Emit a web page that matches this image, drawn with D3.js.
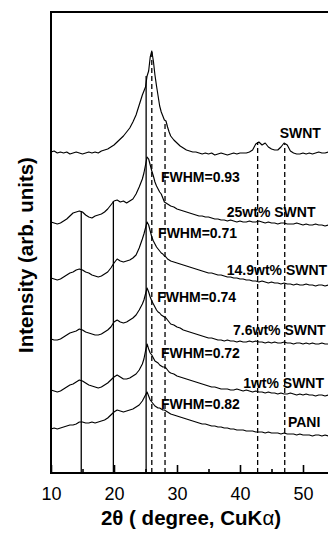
<!DOCTYPE html>
<html>
<head>
<meta charset="utf-8">
<script src="https://cdn.jsdelivr.net/npm/d3@7"></script>
<style>
  body { margin: 0; background: #fff; }
  svg { display: block; }
</style>
</head>
<body>
<svg id="xrd"></svg>
<script>
// 2-theta sample positions shared by all patterns
const angles = [
  10, 10.5, 11, 11.5, 12, 12.5, 13, 13.5, 14, 14.5,
  15, 15.5, 16, 16.5, 17, 17.5, 18, 18.5, 19, 19.5,
  20, 20.5, 21, 21.5, 22, 22.5, 23, 23.5, 24, 24.5,
  24.75, 25, 25.25, 25.5, 25.75, 26, 26.25, 26.5, 26.75, 27,
  27.25, 27.5, 27.75, 28, 28.25, 28.5, 28.75, 29, 29.5, 30,
  30.5, 31, 31.5, 32, 32.5, 33, 33.5, 34, 34.5, 35,
  35.5, 36, 36.5, 37, 37.5, 38, 38.5, 39, 39.5, 40,
  40.5, 41, 41.5, 42, 42.5, 43, 43.5, 44, 44.5, 45,
  45.5, 46, 46.5, 47, 47.5, 48, 48.5, 49, 49.5, 50,
  50.5, 51, 51.5, 52, 52.5, 53, 53.5, 54, 54.5, 55
];

// stacked intensities (arb. units, offsets included)
const swnt = [
  321, 322, 320, 321, 320, 321, 319, 320, 321, 320,
  319, 320, 321, 320, 321, 320, 322, 323, 324, 326,
  328, 331, 334, 337, 341, 345, 351, 358, 368, 378,
  382, 386, 397, 402, 416, 422, 412, 398, 387, 377,
  367, 361, 357, 353, 352, 346, 341, 337, 333, 330,
  327, 325, 323, 322, 321, 321, 320, 319, 320, 319,
  320, 318, 319, 320, 319, 318, 319, 320, 319, 320,
  320, 320, 321, 323, 329, 331, 328, 330, 326, 324,
  323, 323, 326, 330, 328, 322, 320, 319, 319, 320,
  319, 320, 319, 320, 321, 320, 320, 321, 320, 320
];
const swnt25 = [
  251, 250, 249, 250, 252, 254, 257, 260, 261, 262,
  261, 258, 256, 255, 257, 258, 259, 261, 264, 268,
  272, 273, 271, 272, 270, 272, 274, 279, 286, 294,
  300, 308, 316, 314, 308, 302, 297, 291, 287, 284,
  281, 279, 275, 271, 270, 269, 268, 267, 266, 264,
  263, 262, 261, 260, 259, 258, 257, 257, 256, 256,
  255, 254, 254, 253, 253, 252, 253, 252, 251, 252,
  251, 251, 252, 251, 251, 252, 251, 250, 251, 250,
  250, 249, 250, 250, 249, 249, 249, 250, 249, 248,
  249, 248, 248, 249, 248, 248, 247, 248, 248, 248
];
const swnt149 = [
  195, 194, 193, 194, 196, 198, 200, 201, 203, 204,
  203, 201, 200, 198, 197, 196, 197, 199, 201, 205,
  210, 214, 212, 211, 212, 213, 215, 218, 225, 234,
  239, 245, 251, 248, 242, 236, 232, 229, 226, 224,
  222, 220, 219, 217, 216, 214, 213, 212, 211, 210,
  209, 208, 207, 206, 205, 204, 203, 202, 201, 200,
  200, 199, 198, 198, 197, 196, 196, 195, 195, 194,
  194, 193, 193, 192, 192, 191, 192, 191, 190, 191,
  190, 190, 189, 190, 189, 189, 188, 189, 188, 188,
  189, 188, 188, 187, 188, 188, 187, 188, 187, 187
];
const swnt76 = [
  134, 133, 133, 134, 136, 138, 140, 141, 142, 144,
  143, 141, 140, 139, 138, 138, 139, 141, 143, 146,
  151, 153, 151, 150, 151, 153, 155, 158, 163, 169,
  173, 179, 185, 181, 176, 172, 169, 166, 163, 161,
  160, 158, 157, 156, 155, 153, 151, 149, 148, 146,
  145, 143, 142, 141, 140, 139, 138, 137, 136, 135,
  135, 134, 133, 133, 132, 133, 132, 132, 131, 132,
  131, 131, 132, 131, 132, 131, 131, 130, 131, 130,
  131, 130, 130, 131, 130, 130, 129, 130, 130, 129,
  130, 129, 130, 129, 129, 130, 129, 129, 130, 129
];
const swnt1 = [
  83, 82, 81, 82, 84, 86, 88, 89, 91, 93,
  92, 90, 88, 87, 86, 85, 86, 88, 90, 93,
  96, 98, 96, 94, 94, 95, 97, 99, 103, 109,
  114, 122, 129, 124, 120, 118, 115, 112, 111, 110,
  108, 107, 106, 106, 105, 103, 101, 100, 99, 97,
  96, 95, 94, 93, 92, 91, 90, 89, 88, 87,
  86, 86, 85, 84, 84, 84, 83, 83, 84, 83,
  82, 83, 82, 81, 82, 81, 81, 80, 81, 80,
  80, 79, 80, 79, 79, 80, 79, 78, 79, 78,
  79, 78, 78, 77, 78, 78, 77, 78, 77, 77
];
const pani = [
  44, 45, 44, 45, 46, 47, 48, 48, 49, 51,
  51, 50, 50, 51, 50, 51, 52, 53, 55, 58,
  61, 63, 62, 61, 62, 63, 64, 66, 68, 72,
  75, 78, 81, 77, 73, 71, 69, 67, 66, 65,
  65, 64, 63, 63, 62, 61, 60, 59, 58, 57,
  56, 55, 54, 53, 52, 51, 50, 49, 49, 48,
  47, 47, 46, 46, 45, 45, 44, 44, 43, 43,
  43, 42, 42, 42, 41, 41, 41, 40, 41, 40,
  40, 40, 39, 40, 39, 39, 39, 38, 39, 38,
  38, 38, 37, 38, 38, 37, 38, 37, 38, 37
];

// reflection markers: position and the level they reach
const solidAngles = [14.8, 19.9, 25.1];
const solidTops = [262, 272, 397];
const dashedAngles = [26.0, 28.1, 42.8, 47.1];
const dashedTops = [422, 352, 331, 329];

const majorTicks = [10, 20, 30, 40, 50];
const minorTicks = [15, 25, 35, 45];

// text labels with the (2theta, intensity) of their baseline start
const labels = [
  {text: 'SWNT', at: [46.3, 335]},
  {text: 'FWHM=0.93', at: [27.45, 291]},
  {text: '25wt% SWNT', at: [37.9, 256]},
  {text: 'FWHM=0.71', at: [27.0, 235]},
  {text: '14.9wt% SWNT', at: [37.9, 198]},
  {text: 'FWHM=0.74', at: [26.85, 171]},
  {text: '7.6wt% SWNT', at: [38.9, 138]},
  {text: 'FWHM=0.72', at: [27.45, 115]},
  {text: '1wt% SWNT', at: [40.5, 85]},
  {text: 'FWHM=0.82', at: [27.45, 64]},
  {text: 'PANI', at: [47.6, 46]}
];

const width = 328;
const height = 535;
const font = 'Arial, "Liberation Sans", Helvetica, sans-serif';

const x = d3.scaleLinear()
  .domain([10, 60])
  .range([51, 366]);

const y = d3.scaleLinear()
  .domain([0, 461])
  .range([473, 12]);

const svg = d3.select('#xrd')
  .attr('width', width)
  .attr('height', height)
  .style('font-family', font);

const plot = svg.append('g');

// diffraction patterns
const patterns = [swnt, swnt25, swnt149, swnt76, swnt1, pani];
const line = d3.line()
  .x((d, i) => x(angles[i]))
  .y(d => y(d));

plot.selectAll('path.pattern')
  .data(patterns)
  .enter().append('path')
  .attr('class', 'pattern')
  .attr('d', line)
  .attr('fill', 'none')
  .attr('stroke', '#000')
  .attr('stroke-width', 1.15)
  .attr('stroke-linejoin', 'round');

// solid markers
plot.selectAll('line.solid')
  .data(solidAngles)
  .enter().append('line')
  .attr('class', 'solid')
  .attr('x1', d => x(d))
  .attr('x2', d => x(d))
  .attr('y1', y(0))
  .attr('y2', (d, i) => y(solidTops[i]))
  .attr('stroke', '#000')
  .attr('stroke-width', 1.3);

// dashed markers
plot.selectAll('line.dashed')
  .data(dashedAngles)
  .enter().append('line')
  .attr('class', 'dashed')
  .attr('x1', d => x(d))
  .attr('x2', d => x(d))
  .attr('y1', y(0))
  .attr('y2', (d, i) => y(dashedTops[i]))
  .attr('stroke', '#000')
  .attr('stroke-width', 1.3)
  .attr('stroke-dasharray', '5,3');

// labels
plot.selectAll('text.label')
  .data(labels)
  .enter().append('text')
  .attr('class', 'label')
  .attr('x', d => x(d.at[0]))
  .attr('y', d => y(d.at[1]))
  .attr('font-size', 14)
  .attr('font-weight', 'bold')
  .attr('fill', '#000')
  .text(d => d.text);

// frame
svg.append('rect')
  .attr('x', x(10))
  .attr('y', y(461))
  .attr('width', x(60) - x(10))
  .attr('height', y(0) - y(461))
  .attr('fill', 'none')
  .attr('stroke', '#000')
  .attr('stroke-width', 2);

// bottom axis, ticks pointing inward
const xAxis = d3.axisBottom(x)
  .tickValues(majorTicks)
  .tickSizeInner(-8)
  .tickSizeOuter(0)
  .tickPadding(14)
  .tickFormat(d3.format('d'));

const xMinor = d3.axisBottom(x)
  .tickValues(minorTicks)
  .tickSizeInner(-4)
  .tickSizeOuter(0)
  .tickFormat('');

function styleAxis(g) {
  g.select('.domain').remove();
  g.selectAll('.tick line').attr('stroke', '#000').attr('stroke-width', 1.6);
  g.selectAll('.tick text')
    .attr('fill', '#000')
    .attr('font-size', 18)
    .attr('font-family', font);
}

svg.append('g')
  .attr('transform', 'translate(0,' + y(0) + ')')
  .call(xAxis)
  .call(styleAxis);

svg.append('g')
  .attr('transform', 'translate(0,' + y(0) + ')')
  .call(xMinor)
  .call(styleAxis);

// axis titles
const xTitle = svg.append('text')
  .attr('x', 191)
  .attr('y', 525)
  .attr('text-anchor', 'middle')
  .attr('font-size', 20.5)
  .attr('font-weight', 'bold');
xTitle.append('tspan').text('2\u03b8 ( degree, CuK');
xTitle.append('tspan').attr('font-weight', 'normal').text('\u03b1');
xTitle.append('tspan').text(')');

svg.append('text')
  .attr('transform', 'translate(33,255) rotate(-90)')
  .attr('text-anchor', 'middle')
  .attr('font-size', 20.5)
  .attr('font-weight', 'bold')
  .text('Intensity (arb. units)');
</script>
</body>
</html>
